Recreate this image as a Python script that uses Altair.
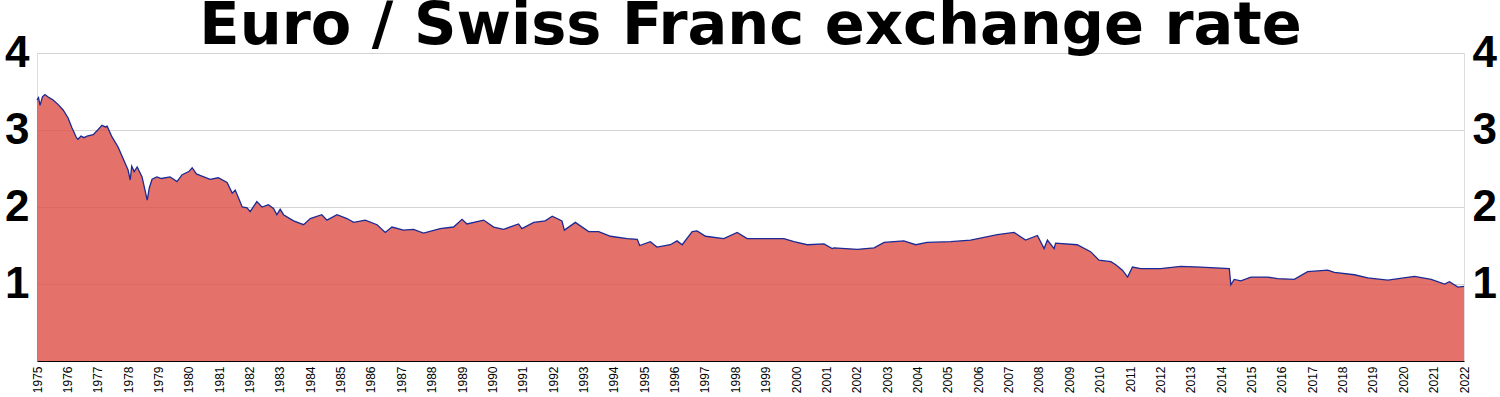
import altair as alt
import pandas as pd

years = [
    1975.00, 1975.05, 1975.10, 1975.18, 1975.26, 1975.40, 1975.53, 1975.70, 1975.86,
    1976.02, 1976.15, 1976.30, 1976.35, 1976.45, 1976.55, 1976.65, 1976.85,
    1977.00, 1977.14, 1977.25, 1977.31, 1977.47, 1977.67, 1977.90,
    1978.00, 1978.07, 1978.12, 1978.20, 1978.30, 1978.46, 1978.63, 1978.70, 1978.79, 1978.95,
    1979.10, 1979.38, 1979.50, 1979.61, 1979.78,
    1980.00, 1980.11, 1980.25, 1980.37, 1980.70, 1980.97,
    1981.26, 1981.43, 1981.53, 1981.76, 1981.92,
    1982.02, 1982.24, 1982.41, 1982.62, 1982.79, 1982.90,
    1983.01, 1983.12, 1983.45, 1983.78,
    1984.00, 1984.38, 1984.55, 1984.88,
    1985.21, 1985.43, 1985.81,
    1986.20, 1986.47, 1986.69,
    1987.07, 1987.40, 1987.73,
    1988.28, 1988.72,
    1989.00, 1989.16, 1989.71,
    1990.04, 1990.37, 1990.86, 1990.97,
    1991.36, 1991.74, 1991.97,
    1992.29, 1992.37, 1992.73,
    1993.17, 1993.50, 1993.89,
    1994.44, 1994.77, 1994.85,
    1995.20, 1995.42, 1995.86,
    1996.08, 1996.25, 1996.58, 1996.74,
    1997.02, 1997.62,
    1998.06, 1998.39,
    1999.60, 1999.93,
    2000.37, 2000.92,
    2001.19, 2001.25,
    2002.02, 2002.57, 2002.90,
    2003.55, 2003.94,
    2004.32,
    2005.09, 2005.75,
    2006.63,
    2007.18, 2007.56, 2007.95,
    2008.17, 2008.28, 2008.50, 2008.55,
    2009.26, 2009.70, 2009.98,
    2010.37, 2010.53, 2010.75, 2010.92,
    2011.08, 2011.35,
    2012.01, 2012.67,
    2013.33,
    2014.27, 2014.32, 2014.43, 2014.65, 2014.98,
    2015.53, 2015.86,
    2016.41, 2016.85,
    2017.51, 2017.73,
    2018.39, 2018.83,
    2019.49,
    2020.37, 2020.92,
    2021.36, 2021.52, 2021.80, 2022.00,
]

rates = [
    3.39, 3.42, 3.32, 3.43, 3.46, 3.42, 3.39, 3.33, 3.26,
    3.16, 3.03, 2.90, 2.88, 2.92, 2.90, 2.92, 2.94,
    3.00, 3.06, 3.04, 3.05, 2.91, 2.78, 2.57,
    2.48, 2.35, 2.53, 2.46, 2.52, 2.39, 2.09, 2.25, 2.36, 2.39,
    2.37, 2.39, 2.36, 2.33, 2.42,
    2.46, 2.51, 2.43, 2.41, 2.36, 2.38,
    2.32, 2.18, 2.22, 2.00, 1.99,
    1.94, 2.07, 2.00, 2.03, 1.98, 1.90,
    1.97, 1.90, 1.82, 1.77,
    1.85, 1.90, 1.83, 1.90,
    1.85, 1.80, 1.83,
    1.77, 1.67, 1.74,
    1.70, 1.71, 1.66,
    1.72, 1.74,
    1.84, 1.78, 1.83,
    1.74, 1.71, 1.78, 1.72,
    1.80, 1.82, 1.88,
    1.82, 1.70, 1.80,
    1.68, 1.68, 1.62,
    1.59, 1.58, 1.50,
    1.55, 1.48, 1.51,
    1.56, 1.51, 1.68, 1.69,
    1.62, 1.59,
    1.67, 1.59,
    1.59, 1.55,
    1.51, 1.52,
    1.46, 1.47,
    1.45, 1.47, 1.54,
    1.56, 1.51,
    1.54,
    1.55, 1.57,
    1.64,
    1.67, 1.57, 1.63,
    1.46, 1.57, 1.46, 1.53,
    1.51, 1.42, 1.31,
    1.29, 1.25, 1.18, 1.09,
    1.22, 1.20,
    1.20, 1.23,
    1.22,
    1.20, 0.99, 1.06, 1.04, 1.09,
    1.09, 1.07,
    1.06, 1.16,
    1.18, 1.15,
    1.12, 1.08,
    1.05,
    1.10, 1.06,
    1.00, 1.03, 0.96, 0.97,
]

year_ticks = list(range(1975, 2023))
rate_ticks = [1, 2, 3, 4]

df = pd.DataFrame({"year": years, "rate": rates})

FONT = "Liberation Sans"

x_scale = alt.Scale(domain=[1975, 2022], nice=False, zero=False)
x_axis = alt.Axis(
    values=year_ticks, format="d", labelAngle=270, labelFontSize=12,
    labelFont=FONT, labelColor="black", labelPadding=5, labelOverlap=False,
    ticks=False, domain=True, domainColor="black", domainWidth=1,
    grid=False, title=None,
)

y_scale = alt.Scale(domain=[0, 4], nice=False)

axis_common = dict(
    values=rate_ticks, format="d", labelFontSize=44, labelFontWeight="bold",
    labelFont=FONT, labelColor="black", labelPadding=8, ticks=False,
    domain=False, title=None,
)

area = alt.Chart(df).mark_area(color="#df4f45", opacity=0.8).encode(
    x=alt.X("year:Q", scale=x_scale, axis=x_axis),
    y=alt.Y("rate:Q", scale=y_scale,
            axis=alt.Axis(orient="left", grid=True, gridColor="#d4d4d4", gridWidth=1, **axis_common)),
)

line = alt.Chart(df).mark_line(color="#1b2a94", strokeWidth=1.3).encode(
    x=alt.X("year:Q", scale=x_scale, axis=x_axis),
    y=alt.Y("rate:Q", scale=y_scale,
            axis=alt.Axis(orient="right", grid=False, **axis_common)),
)

chart = alt.layer(area, line).resolve_axis(y="independent").properties(
    width=1427,
    height=308,
    autosize=alt.AutoSizeParams(type="none"),
    padding={"left": 37, "top": 53, "right": 36, "bottom": 36},
    title=alt.TitleParams(
        "Euro / Swiss Franc exchange rate", fontSize=59, fontWeight="bold", font="DejaVu Sans",
        color="black", anchor="middle", frame="group", offset=-25,
    ),
).configure_view(stroke=None).configure(background="white")

chart.save("out.html", embed_options={"renderer": "svg", "actions": False})
